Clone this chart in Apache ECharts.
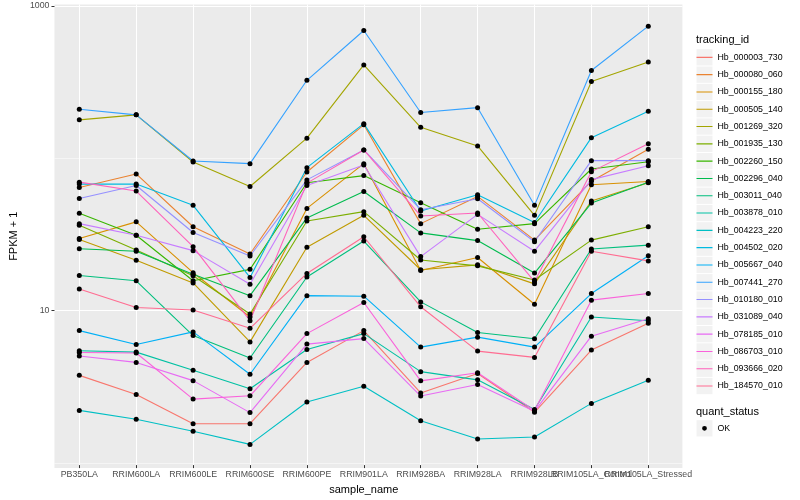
<!DOCTYPE html>
<html><head><meta charset="utf-8">
<script src="https://cdn.jsdelivr.net/npm/echarts@6/dist/echarts.min.js"></script>
<style>html,body{margin:0;padding:0;background:#fff}#c{width:800px;height:500px}</style>
</head><body><div id="c"></div>
<script>
// ---------- data ----------
const categories = ['PB350LA','RRIM600LA','RRIM600LE','RRIM600SE','RRIM600PE','RRIM901LA','RRIM928BA','RRIM928LA','RRIM928LB','RRIM105LA_Control','RRIM105LA_Stressed'];
const trackingIds = ['Hb_000003_730','Hb_000080_060','Hb_000155_180','Hb_000505_140','Hb_001269_320','Hb_001935_130','Hb_002260_150','Hb_002296_040','Hb_003011_040','Hb_003878_010','Hb_004223_220','Hb_004502_020','Hb_005667_040','Hb_007441_270','Hb_010180_010','Hb_031089_040','Hb_078185_010','Hb_086703_010','Hb_093666_020','Hb_184570_010'];
const colors = ['#F8766D','#EA8331','#D89000','#C09B00','#A3A500','#7CAE00','#39B600','#00BB4E','#00BF7D','#00C1A3','#00BFC4','#00BAE0','#00B0F6','#35A2FF','#9590FF','#C77CFF','#E76BF3','#FA62DB','#FF62BC','#FF6C91'];
const quantStatus = ['OK'];

const Hb_000003_730 = [3.63, 2.71, 1.74, 1.74, 4.42, 7.17, 2.78, 3.73, 2.07, 5.33, 8.02];
const Hb_000080_060 = [63.2, 77.7, 34.8, 23.0, 80.1, 164, 36.5, 55.2, 28.4, 69.6, 113];
const Hb_000155_180 = [29.1, 37.5, 17.3, 8.82, 46.0, 90.9, 17.9, 21.8, 10.7, 65.9, 69.2];
const Hb_000505_140 = [28.7, 20.9, 14.8, 6.04, 25.5, 41.4, 18.1, 19.5, 14.6, 51.5, 67.9];
const Hb_001269_320 = [177, 191, 93.2, 64.2, 134, 408, 158, 119, 41.4, 317, 427];
const Hb_001935_130 = [35.6, 24.4, 16.5, 9.23, 38.0, 43.8, 21.0, 19.2, 15.5, 28.4, 34.8];
const Hb_002260_150 = [42.7, 30.6, 15.3, 18.2, 67.9, 75.8, 50.2, 33.5, 36.5, 83.8, 93.6];
const Hb_002296_040 = [24.9, 24.0, 16.9, 12.2, 39.8, 59.5, 31.7, 28.2, 17.2, 49.9, 68.6];
const Hb_003011_040 = [16.6, 15.3, 6.65, 4.73, 16.2, 28.0, 11.1, 6.96, 6.33, 24.8, 26.3];
const Hb_003878_010 = [5.28, 5.17, 3.92, 2.96, 5.38, 6.85, 3.84, 3.39, 2.16, 8.82, 8.34];
const Hb_004223_220 = [2.13, 1.86, 1.55, 1.27, 2.42, 3.08, 1.82, 1.38, 1.42, 2.37, 3.37];
const Hb_004502_020 = [66.6, 66.6, 48.2, 16.1, 85.5, 167, 44.2, 56.6, 37.1, 135, 202];
const Hb_005667_040 = [7.17, 5.80, 7.03, 3.69, 12.2, 12.1, 5.58, 6.49, 5.58, 12.6, 22.4];
const Hb_007441_270 = [208, 191, 94.6, 90.9, 323, 689, 198, 213, 48.2, 375, 736];
const Hb_010180_010 = [53.5, 65.2, 31.9, 22.3, 71.0, 112, 45.1, 53.3, 27.7, 95.1, 95.1];
const Hb_031089_040 = [36.5, 30.6, 24.2, 14.5, 65.2, 89.1, 22.1, 42.0, 24.0, 71.3, 88.1];
const Hb_078185_010 = [4.87, 4.42, 3.35, 2.06, 5.84, 6.35, 2.65, 3.16, 2.10, 6.59, 8.60];
const Hb_086703_010 = [5.14, 5.10, 2.53, 2.66, 6.85, 11.0, 3.34, 3.78, 2.13, 11.4, 12.6];
const Hb_093666_020 = [68.6, 59.9, 25.7, 8.34, 67.6, 112, 41.0, 42.9, 15.1, 80.5, 123];
const Hb_184570_010 = [13.5, 10.2, 9.80, 7.43, 17.1, 29.9, 10.3, 5.25, 4.77, 24.0, 20.7];

const seriesValues = [Hb_000003_730, Hb_000080_060, Hb_000155_180, Hb_000505_140, Hb_001269_320,
  Hb_001935_130, Hb_002260_150, Hb_002296_040, Hb_003011_040, Hb_003878_010, Hb_004223_220,
  Hb_004502_020, Hb_005667_040, Hb_007441_270, Hb_010180_010, Hb_031089_040, Hb_078185_010,
  Hb_086703_010, Hb_093666_020, Hb_184570_010];

const yLabelTicks = [10, 1000];
const yMinorTicks = [1, 100];
const yMin = 0.927, yMax = 1023;

// ---------- layout ----------
const FONT = '"Liberation Sans", Arial, Helvetica, sans-serif';
const PL = 45.2, PR = 682.4, PT = 4.5, PB = 468;
const C0 = 79.3, C10 = 648.3;

const lineIcon = 'path://M0,0h0.01v0.01h-0.01zM15.99,16.29h0.01v0.01h-0.01zM0,7.6h16v1.1h-16z';
const pointIcon = 'path://M0,0h0.01v0.01h-0.01zM15.99,16.29h0.01v0.01h-0.01zM5.6,8.15a2.4,2.4 0 1,0 4.8,0a2.4,2.4 0 1,0 -4.8,0z';

const series = trackingIds.map((name, k) => ({
  name: name,
  type: 'line',
  xAxisIndex: 1, yAxisIndex: 2,
  data: seriesValues[k],
  showSymbol: false,
  symbol: 'none',
  clip: false,
  color: colors[k],
  lineStyle: { width: 1.1, color: colors[k], opacity: 1 },
  emphasis: { disabled: true },
  z: 3
}));
const pts = [];
seriesValues.forEach(vals => vals.forEach((v, i) => pts.push([categories[i], v])));
series.push({
  name: 'OK', type: 'scatter', xAxisIndex: 1, yAxisIndex: 2, data: pts,
  symbol: 'circle', symbolSize: 5, clip: false, color: '#000000',
  itemStyle: { color: '#000000', opacity: 1 }, emphasis: { disabled: true }, z: 4
});

const legendCommon = {
  orient: 'vertical', left: 696.5, itemWidth: 16, itemHeight: 16.3, itemGap: 1,
  selectedMode: false, padding: 0,
  textStyle: { fontSize: 8.8, fontFamily: FONT, color: '#000000' }
};

const option = {
  animation: false,
  backgroundColor: '#ffffff',
  textStyle: { fontFamily: FONT },
  title: [
    { text: 'tracking_id', left: 696, top: 34.5, padding: 0,
      textStyle: { fontSize: 11, fontWeight: 'normal', color: '#000', fontFamily: FONT } },
    { text: 'quant_status', left: 696, top: 406, padding: 0,
      textStyle: { fontSize: 11, fontWeight: 'normal', color: '#000', fontFamily: FONT } }
  ],
  grid: [
    { left: PL, top: PT, width: PR - PL, height: PB - PT, show: true, backgroundColor: '#EBEBEB', borderWidth: 0 },
    { left: C0, top: PT, width: C10 - C0, height: PB - PT }
  ],
  xAxis: [
    { gridIndex: 0, type: 'value', min: 0, max: 1, show: false },
    { gridIndex: 1, type: 'category', data: categories, boundaryGap: false,
      axisLine: { show: false },
      axisTick: { show: true, length: 3, lineStyle: { color: '#333333', width: 1 } },
      axisLabel: { interval: 0, hideOverlap: false, fontSize: 8.8, color: '#4D4D4D', margin: 5, fontFamily: FONT },
      splitLine: { show: true, lineStyle: { color: '#ffffff', width: 1.07 } },
      name: 'sample_name', nameLocation: 'middle', nameGap: 15,
      nameTextStyle: { fontSize: 11, color: '#000', fontFamily: FONT } }
  ],
  yAxis: [
    { gridIndex: 0, type: 'log', logBase: 10, min: yMin, max: yMax,
      axisLine: { show: false },
      axisTick: { show: true, length: 3, customValues: yLabelTicks, lineStyle: { color: '#333333', width: 1 } },
      axisLabel: { customValues: yLabelTicks, fontSize: 8.8, color: '#4D4D4D', margin: 5, fontFamily: FONT,
        formatter: v => (Math.abs(Math.log10(v) - 1) < 1e-6 ? '10' : (Math.abs(Math.log10(v) - 3) < 1e-6 ? '1000' : '')) },
      splitLine: { show: true, lineStyle: { color: '#ffffff', width: 1.07 } },
      name: 'FPKM + 1', nameLocation: 'middle', nameGap: 29, nameRotate: 90,
      nameTextStyle: { fontSize: 11, color: '#000', fontFamily: FONT } },
    { gridIndex: 0, type: 'log', logBase: 10, min: yMin, max: yMax, position: 'left',
      axisLine: { show: false },
      axisTick: { show: false, customValues: yMinorTicks },
      axisLabel: { show: false },
      splitLine: { show: true, lineStyle: { color: '#ffffff', width: 0.53 } } },
    { gridIndex: 1, type: 'log', logBase: 10, min: yMin, max: yMax, show: false }
  ],
  legend: [
    Object.assign({}, legendCommon, { data: trackingIds, top: 49.2, icon: 'rect', z: 1,
      itemStyle: { color: '#F2F2F2', borderWidth: 0 },
      textStyle: { fontSize: 8.8, fontFamily: FONT, color: 'rgba(0,0,0,0)' } }),
    Object.assign({}, legendCommon, { data: trackingIds, top: 49.2, icon: lineIcon, z: 2,
      itemStyle: { borderWidth: 0, opacity: 1 } }),
    Object.assign({}, legendCommon, { data: quantStatus, top: 420.2, icon: 'rect', z: 1,
      itemStyle: { color: '#F2F2F2', borderWidth: 0 },
      textStyle: { fontSize: 8.8, fontFamily: FONT, color: 'rgba(0,0,0,0)' } }),
    Object.assign({}, legendCommon, { data: quantStatus, top: 420.2, icon: pointIcon, z: 2,
      itemStyle: { color: '#000000', borderWidth: 0, opacity: 1 } })
  ],
  series: series
};

const chart = echarts.init(document.getElementById('c'));
chart.setOption(option);
</script>
</body></html>
